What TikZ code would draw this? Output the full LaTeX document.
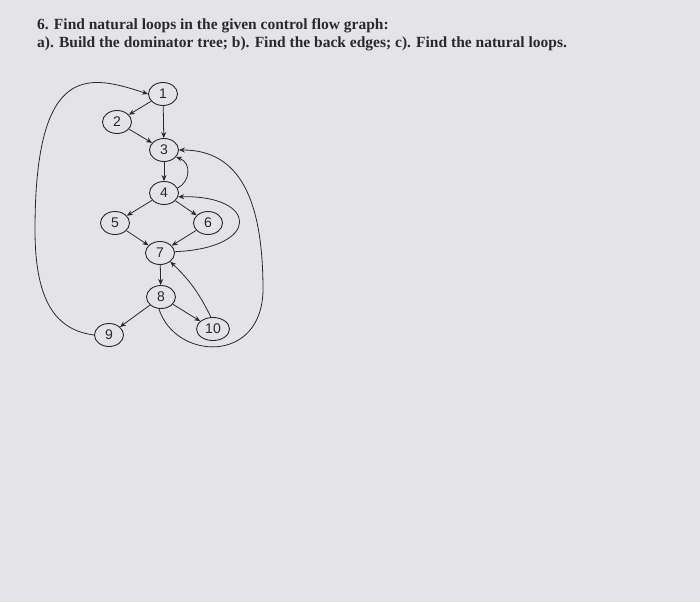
\documentclass[tikz,border=0pt]{standalone}
\usepackage{fontspec}
\setmainfont{Liberation Serif}
\setsansfont{Liberation Sans}
\usetikzlibrary{arrows.meta,shapes.geometric}
\definecolor{paper}{rgb}{0.89,0.89,0.91}
\definecolor{ink}{rgb}{0.16,0.16,0.18}
\begin{document}
\begin{tikzpicture}[x=1pt,y=-1pt,
  blk/.style={draw=ink, line width=0.9pt, ellipse, minimum width=29pt, minimum height=23pt, inner sep=0pt,
    text=ink, font=\sffamily\fontsize{14}{14}\selectfont},
  arr/.style={draw=ink, line width=0.8pt, -{Stealth[length=6pt,width=5pt]}}]
  \fill[paper] (0,0) rectangle (700,602);
  \useasboundingbox (0,0) rectangle (700,602);
  \node[anchor=north west, align=left, inner sep=0pt, text=ink,
    font=\bfseries\fontsize{15.5}{18}\selectfont]
    (task) at (37,18) {6. Find natural loops in the given control flow graph:\\
    a). Build the dominator tree; b). Find the back edges; c). Find the natural loops.};
  \node[blk] (n1) at (163,94) {1};
  \node[blk] (n2) at (117,122) {2};
  \node[blk] (n3) at (164,150) {3};
  \node[blk] (n4) at (164,193) {4};
  \node[blk] (n5) at (115,223) {5};
  \node[blk] (n6) at (208,223) {6};
  \node[blk] (n7) at (160,253) {7};
  \node[blk] (n8) at (161,297) {8};
  \node[blk] (n9) at (109,335) {9};
  \node[blk, minimum width=33pt] (n10) at (213,329) {10};
  \draw[arr] (n1) -- (n2);
  \draw[arr] (n1) -- (n3);
  \draw[arr] (n2) -- (n3);
  \draw[arr] (n3) -- (n4);
  \draw[arr] (n4.20) .. controls (190,182) and (192,163) .. (n3.-30);
  \draw[arr] (n4) -- (n5);
  \draw[arr] (n4) -- (n6);
  \draw[arr] (n5) -- (n7);
  \draw[arr] (n6) -- (n7);
  \draw[arr] (n7.5) .. controls (262,248) and (258,195) .. (n4.-15);
  \draw[arr] (n7) -- (n8);
  \draw[arr] (n8) -- (n9);
  \draw[arr] (n8) -- (n10);
  \draw[arr] (n10.100) to[bend right=10] (n7.-40);
  \draw[arr] (n8.-100) .. controls (175,360) and (262,365) .. (263,290)
    .. controls (263,200) and (240,150) .. (n3.east);
  \draw[arr] (n9.west) .. controls (55,330) and (35,300) .. (35,230)
    .. controls (35,60) and (90,75) .. (n1.west);
\end{tikzpicture}
\end{document}
